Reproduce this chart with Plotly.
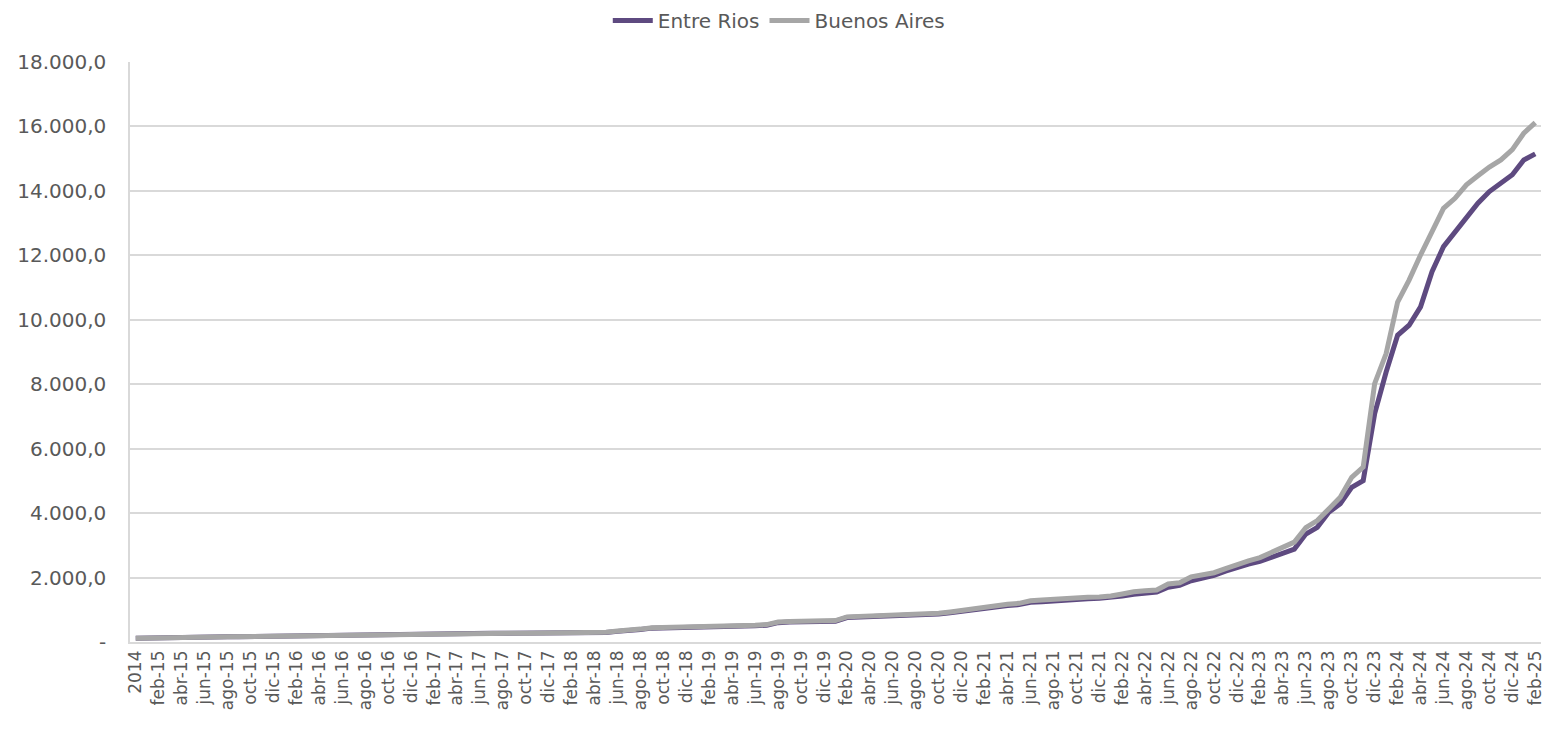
import plotly.graph_objects as go

meses = ["ene", "feb", "mar", "abr", "may", "jun", "jul", "ago", "sep", "oct", "nov", "dic"]
categorias = ["2014"] + [f"{m}-{y:02d}" for y in range(15, 26) for m in meses][:122]

buenos_aires = [
    120, 130, 135, 140, 145, 148, 152, 156, 160, 165, 170, 178, 188,
    195, 202, 210, 218, 226, 235, 238, 241, 244, 247, 250, 253,
    256, 258, 260, 262, 264, 266, 268, 270, 272, 274, 276, 278,
    280, 282, 285, 290, 300, 340, 360, 400, 440, 445, 450, 455,
    460, 470, 480, 490, 505, 520, 540, 620, 640, 650, 655, 660,
    665, 780, 790, 800, 815, 830, 845, 860, 875, 890, 930, 980,
    1040, 1100, 1150, 1170, 1200, 1280, 1300, 1330, 1355, 1370, 1385, 1400,
    1425, 1490, 1560, 1590, 1615, 1800, 1840, 2020, 2090, 2150, 2280, 2410,
    2520, 2620, 2780, 2950, 3100, 3550, 3770, 4130, 4490, 5110, 5430, 8020,
    8950, 10550, 11230, 12010, 12730, 13460, 13770, 14190, 14470, 14740, 14960, 15280,
    15790, 16120,
]

entre_rios = [
    118, 128, 133, 138, 143, 147, 151, 155, 160, 165, 170, 178, 188,
    198, 206, 214, 222, 230, 240, 243, 246, 248, 250, 252, 254,
    256, 258, 260, 262, 264, 266, 268, 270, 272, 274, 276, 278,
    280, 282, 285, 288, 295, 330, 350, 390, 430, 435, 440, 445,
    450, 460, 470, 480, 495, 505, 520, 600, 620, 630, 635, 640,
    645, 760, 770, 780, 795, 810, 825, 840, 855, 870, 910, 955,
    1010, 1060, 1110, 1130, 1160, 1230, 1250, 1280, 1300, 1320, 1340, 1360,
    1380, 1430, 1480, 1520, 1550, 1700, 1760, 1900, 1980, 2070, 2200, 2320,
    2420, 2500, 2620, 2750, 2885, 3350, 3560, 4025, 4290, 4800, 5010, 7085,
    8380, 9520, 9830, 10400, 11490, 12270, 12730, 13200, 13620, 13980, 14240, 14500,
    14960, 15150,
]

y_ticks = [0, 2000, 4000, 6000, 8000, 10000, 12000, 14000, 16000, 18000]
y_labels = ["-", "2.000,0", "4.000,0", "6.000,0", "8.000,0", "10.000,0",
            "12.000,0", "14.000,0", "16.000,0", "18.000,0"]

x_idx = list(range(len(categorias)))
tick_idx = x_idx[::2]
tick_txt = categorias[::2]

FONT = "DejaVu Sans"
TXT = "#595959"

fig = go.Figure()
fig.add_trace(go.Scatter(x=x_idx, y=entre_rios, mode="lines", name="Entre Rios",
                         line=dict(color="#5E4A80", width=5)))
fig.add_trace(go.Scatter(x=x_idx, y=buenos_aires, mode="lines", name="Buenos Aires",
                         line=dict(color="#A6A6A6", width=5)))

fig.update_layout(
    width=1554, height=742,
    paper_bgcolor="white", plot_bgcolor="white",
    margin=dict(l=122, r=21, t=54, b=108, autoexpand=False),
    font=dict(family=FONT, color=TXT, size=18),
    legend=dict(orientation="h", x=0.496, xref="container", xanchor="center",
                y=1.105, yanchor="top", yref="paper",
                font=dict(size=20, color=TXT, family=FONT),
                itemwidth=40, traceorder="normal"),
    showlegend=True,
)

fig.update_xaxes(
    range=[-0.5, len(categorias) - 0.5],
    tickmode="array", tickvals=tick_idx, ticktext=tick_txt,
    tickangle=-90, tickfont=dict(size=17, color=TXT, family=FONT),
    showgrid=False, showline=True, linecolor="#D9D9D9", linewidth=1.5,
    ticks="", zeroline=False,
)
fig.update_yaxes(
    range=[0, 18000],
    tickmode="array", tickvals=y_ticks, ticktext=y_labels,
    tickfont=dict(size=20, color=TXT, family=FONT),
    showgrid=True, gridcolor="#D9D9D9", gridwidth=1.5,
    showline=True, linecolor="#D9D9D9", linewidth=1.5,
    zeroline=False, ticks="", ticklabelstandoff=18,
)

fig.write_html("out.html")
